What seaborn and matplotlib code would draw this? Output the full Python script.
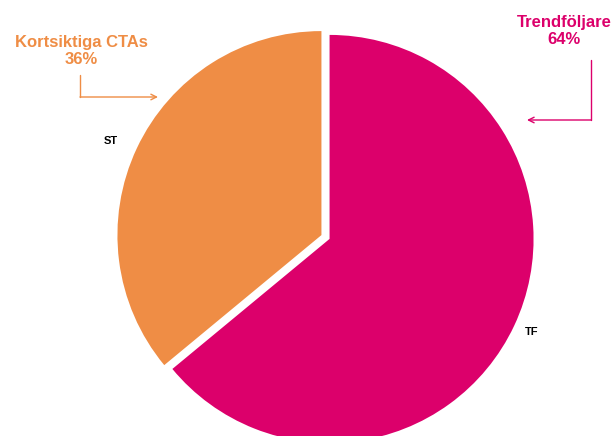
import matplotlib
matplotlib.use("Agg")
import matplotlib.pyplot as plt
import seaborn as sns

categories = ["ST", "TF"]
values = [36, 64]
long_names = ["Kortsiktiga CTAs", "Trendföljare"]
colors = ["#EF8D45", "#DC006B"]

sns.set_theme(style="white")
plt.rcParams["font.family"] = ["Liberation Sans", "DejaVu Sans"]

W, H = 615, 436
fig = plt.figure(figsize=(W / 100, H / 100), dpi=100)
ax = fig.add_axes([0, 0, 1, 1])

R = 204.0
CX, CY = 325.5, 237.0


def d(px, py):
    return ((px - CX) / R, (CY - py) / R)


ax.pie(values, colors=colors, startangle=90, counterclock=True,
       explode=[0.022, 0.022], radius=1.0,
       wedgeprops=dict(linewidth=0))
ax.set_xlim(-CX / R, (W - CX) / R)
ax.set_ylim(-(H - CY) / R, CY / R)
ax.set_aspect("equal")
ax.axis("off")

# slice labels
ax.text(*d(111, 141), categories[0], ha="center", va="center",
        fontsize=8, fontweight="bold", color="black")
ax.text(*d(532, 332), categories[1], ha="center", va="center",
        fontsize=8, fontweight="bold", color="black")

# callouts
ax.text(*d(81, 51), f"{long_names[0]}\n{values[0]}%", ha="center", va="center",
        fontsize=12, fontweight="bold", color=colors[0], linespacing=1.1)
ax.text(*d(564, 31), f"{long_names[1]}\n{values[1]}%", ha="center", va="center",
        fontsize=12, fontweight="bold", color=colors[1], linespacing=1.1)

# arrow left
x0, y0 = d(80, 75)
x1, y1 = d(80, 97)
ax.plot([x0, x1], [y0, y1], color=colors[0], lw=1)
ax.annotate("", xy=d(158, 97), xytext=d(80, 97),
            arrowprops=dict(arrowstyle="->", color=colors[0], lw=1,
                            shrinkA=0, shrinkB=0, mutation_scale=10))
# arrow right
x0, y0 = d(591, 60)
x1, y1 = d(591, 120)
ax.plot([x0, x1], [y0, y1], color=colors[1], lw=1)
ax.annotate("", xy=d(527, 120), xytext=d(591, 120),
            arrowprops=dict(arrowstyle="->", color=colors[1], lw=1,
                            shrinkA=0, shrinkB=0, mutation_scale=10))

fig.savefig("out.png", dpi=100, facecolor="white")
